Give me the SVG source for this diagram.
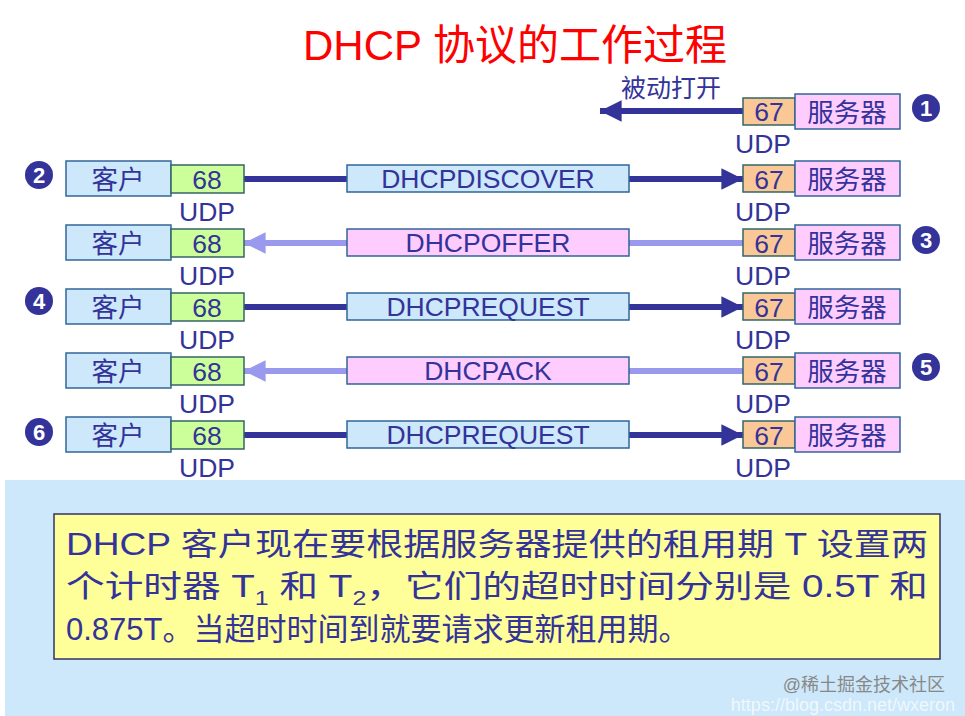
<svg xmlns="http://www.w3.org/2000/svg" width="965" height="716" viewBox="0 0 965 716">
<style>
text{font-family:"Liberation Sans","Noto Sans CJK SC",sans-serif;fill:#333399}
.t{font-size:26.5px;text-anchor:middle}
.c{fill:#cce8fa;stroke:#336699;stroke-width:1.5}
.g{fill:#ccff99;stroke:#336666;stroke-width:1.5}
.o{fill:#fac896;stroke:#336666;stroke-width:1.5}
.s{fill:#ffccff;stroke:#336699;stroke-width:1.5}
.dk{stroke:#333399;stroke-width:6}
.lt{stroke:#9999ee;stroke-width:6}
.n{fill:#333399}
.nt{fill:#fff;font-size:22px;font-weight:bold;text-anchor:middle}
</style>
<defs>
<marker id="ad" viewBox="0 0 10 10" refX="10" refY="5" markerWidth="5" markerHeight="3.6" orient="auto" markerUnits="strokeWidth"><path d="M0,0L10,5L0,10z" fill="#333399"/></marker>
<marker id="al" viewBox="0 0 10 10" refX="10" refY="5" markerWidth="5" markerHeight="3.6" orient="auto" markerUnits="strokeWidth"><path d="M0,0L10,5L0,10z" fill="#9999ee"/></marker>
</defs>
<rect width="965" height="716" fill="#fff"/>
<text x="515" y="60" font-size="42" style="fill:#ff0000" text-anchor="middle">DHCP 协议的工作过程</text>
<g id="connectors">
<line class="dk" x1="743" y1="111" x2="600" y2="111" marker-end="url(#ad)"/>
<line class="dk" x1="244" y1="179" x2="347" y2="179"/><line class="dk" x1="629" y1="179" x2="743" y2="179" marker-end="url(#ad)"/>
<line class="lt" x1="743" y1="243" x2="629" y2="243"/><line class="lt" x1="347" y1="243" x2="244" y2="243" marker-end="url(#al)"/>
<line class="dk" x1="244" y1="307" x2="347" y2="307"/><line class="dk" x1="629" y1="307" x2="743" y2="307" marker-end="url(#ad)"/>
<line class="lt" x1="743" y1="371" x2="629" y2="371"/><line class="lt" x1="347" y1="371" x2="244" y2="371" marker-end="url(#al)"/>
<line class="dk" x1="244" y1="435" x2="347" y2="435"/><line class="dk" x1="629" y1="435" x2="743" y2="435" marker-end="url(#ad)"/>
</g>
<text x="671" y="97" font-size="25" text-anchor="middle">被动打开</text>
<g id="server0"><rect class="o" x="743" y="98" width="52" height="27"/><text class="t" x="769" y="121">67</text><rect class="s" x="795" y="94" width="105" height="35"/><text class="t" x="847" y="122">服务器</text><text class="t" x="763" y="153">UDP</text></g>
<g id="n1"><circle class="n" cx="926" cy="108" r="14"/><text class="nt" x="926" y="116">1</text></g>
<g id="n2"><circle class="n" cx="39" cy="175" r="14"/><text class="nt" x="39" y="183">2</text></g>
<g id="n3"><circle class="n" cx="926" cy="240" r="14"/><text class="nt" x="926" y="248">3</text></g>
<g id="n4"><circle class="n" cx="39" cy="301" r="14"/><text class="nt" x="39" y="309">4</text></g>
<g id="n5"><circle class="n" cx="926" cy="367" r="14"/><text class="nt" x="926" y="375">5</text></g>
<g id="n6"><circle class="n" cx="39" cy="432" r="14"/><text class="nt" x="39" y="440">6</text></g>
<g id="row1"><rect class="c" x="66" y="161" width="105" height="35"/><text class="t" x="118" y="189">客户</text><rect class="g" x="171" y="165" width="73" height="28"/><text class="t" x="207" y="189">68</text><text class="t" x="207" y="221">UDP</text>
<rect class="c" x="347" y="165" width="282" height="27"/><text class="t" x="488" y="188">DHCPDISCOVER</text>
<rect class="o" x="743" y="165" width="52" height="27"/><text class="t" x="769" y="189">67</text><rect class="s" x="795" y="161" width="105" height="35"/><text class="t" x="847" y="189">服务器</text><text class="t" x="763" y="221">UDP</text></g>
<g id="row2"><rect class="c" x="66" y="225" width="105" height="35"/><text class="t" x="118" y="253">客户</text><rect class="g" x="171" y="229" width="73" height="28"/><text class="t" x="207" y="253">68</text><text class="t" x="207" y="285">UDP</text>
<rect class="s" x="347" y="229" width="282" height="27"/><text class="t" x="488" y="252">DHCPOFFER</text>
<rect class="o" x="743" y="229" width="52" height="27"/><text class="t" x="769" y="253">67</text><rect class="s" x="795" y="225" width="105" height="35"/><text class="t" x="847" y="253">服务器</text><text class="t" x="763" y="285">UDP</text></g>
<g id="row3"><rect class="c" x="66" y="289" width="105" height="35"/><text class="t" x="118" y="317">客户</text><rect class="g" x="171" y="293" width="73" height="28"/><text class="t" x="207" y="317">68</text><text class="t" x="207" y="349">UDP</text>
<rect class="c" x="347" y="293" width="282" height="27"/><text class="t" x="488" y="316">DHCPREQUEST</text>
<rect class="o" x="743" y="293" width="52" height="27"/><text class="t" x="769" y="317">67</text><rect class="s" x="795" y="289" width="105" height="35"/><text class="t" x="847" y="317">服务器</text><text class="t" x="763" y="349">UDP</text></g>
<g id="row4"><rect class="c" x="66" y="353" width="105" height="35"/><text class="t" x="118" y="381">客户</text><rect class="g" x="171" y="357" width="73" height="28"/><text class="t" x="207" y="381">68</text><text class="t" x="207" y="413">UDP</text>
<rect class="s" x="347" y="357" width="282" height="27"/><text class="t" x="488" y="380">DHCPACK</text>
<rect class="o" x="743" y="357" width="52" height="27"/><text class="t" x="769" y="381">67</text><rect class="s" x="795" y="353" width="105" height="35"/><text class="t" x="847" y="381">服务器</text><text class="t" x="763" y="413">UDP</text></g>
<g id="row5"><rect class="c" x="66" y="417" width="105" height="35"/><text class="t" x="118" y="445">客户</text><rect class="g" x="171" y="421" width="73" height="28"/><text class="t" x="207" y="445">68</text><text class="t" x="207" y="477">UDP</text>
<rect class="c" x="347" y="421" width="282" height="27"/><text class="t" x="488" y="444">DHCPREQUEST</text>
<rect class="o" x="743" y="421" width="52" height="27"/><text class="t" x="769" y="445">67</text><rect class="s" x="795" y="417" width="105" height="35"/><text class="t" x="847" y="445">服务器</text><text class="t" x="763" y="477">UDP</text></g>
<rect x="5" y="480" width="960" height="236" fill="#cce8fa"/>
<g id="note"><rect x="54" y="514" width="886" height="145" fill="#ffff99" stroke="#333366" stroke-width="1.5"/>
<text font-size="31" x="66" y="555" textLength="862" lengthAdjust="spacingAndGlyphs">DHCP 客户现在要根据服务器提供的租用期 T 设置两</text>
<text font-size="31" x="66" y="597" textLength="862" lengthAdjust="spacingAndGlyphs">个计时器 T<tspan font-size="20" dy="8">1</tspan><tspan dy="-8"> 和 T</tspan><tspan font-size="20" dy="8">2</tspan><tspan dy="-8">，它们的超时时间分别是 0.5T  和</tspan></text>
<text font-size="31" x="66" y="640">0.875T。当超时时间到就要请求更新租用期。</text></g>
<text x="945" y="691" font-size="18" text-anchor="end" style="fill:#888">@稀土掘金技术社区</text>
<text x="955" y="711" font-size="18" text-anchor="end" style="fill:#ffffff;opacity:0.7">https://blog.csdn.net/wxeron</text>
</svg>
